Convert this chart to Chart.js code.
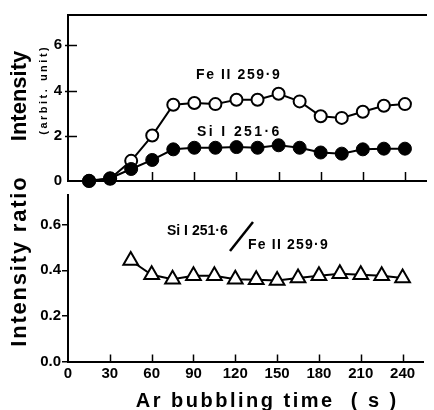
<!DOCTYPE html>
<html>
<head>
<meta charset="utf-8">
<script src="https://cdn.jsdelivr.net/npm/chart.js@4.4.1/dist/chart.umd.min.js"></script>
<style>
  html, body { margin: 0; padding: 0; background: #fff; }
  #wrap { position: relative; width: 434px; height: 410px; overflow: hidden; }
  #top { position: absolute; left: 0; top: 0; }
  #bottom { position: absolute; left: 0; top: 166px; }
</style>
</head>
<body>
<div id="wrap">
  <canvas id="top" width="434" height="196"></canvas>
  <canvas id="bottom" width="434" height="244"></canvas>
</div>
<script>
// --- data ---
const times = [15, 30, 45, 60, 75, 90, 105, 120, 135, 150, 165, 180, 195, 210, 225, 240];
const feII = [0.0, 0.1, 0.89, 2.01, 3.37, 3.45, 3.4, 3.59, 3.59, 3.86, 3.52, 2.86, 2.79, 3.06, 3.33, 3.4];
const siI = [0.01, 0.12, 0.53, 0.93, 1.4, 1.47, 1.47, 1.5, 1.47, 1.58, 1.47, 1.26, 1.21, 1.4, 1.43, 1.43];

const ratioTimes = [45, 60, 75, 90, 105, 120, 135, 150, 165, 180, 195, 210, 225, 240];
const ratio = [0.443, 0.38, 0.361, 0.376, 0.376, 0.361, 0.358, 0.355, 0.366, 0.376, 0.385, 0.38, 0.376, 0.366];

const xTicks = [0, 30, 60, 90, 120, 150, 180, 210, 240];
const intensityTicks = [0, 2, 4, 6];
const ratioTicks = [0, 0.2, 0.4, 0.6];

const FONT = '"Liberation Sans", Arial, sans-serif';
Chart.defaults.font.family = FONT;
Chart.defaults.font.weight = 'bold';
Chart.defaults.color = '#000';

const toPoints = (xs, ys) => xs.map((x, i) => ({ x: x, y: ys[i] }));
const setTicks = (vals) => (scale) => { scale.ticks = vals.map(v => ({ value: v })); };

// draw text with optional letter spacing / rotation
function label(ctx, text, x, y, size, spacing, align, rotate) {
  ctx.save();
  ctx.font = 'bold ' + size + 'px ' + FONT;
  ctx.fillStyle = '#000';
  ctx.letterSpacing = (spacing || 0) + 'px';
  ctx.textBaseline = 'middle';
  ctx.textAlign = 'left';
  const w = ctx.measureText(text).width - (spacing || 0);
  ctx.translate(x, y);
  if (rotate) ctx.rotate(-Math.PI / 2);
  const x0 = align === 'center' ? -w / 2 : 0;
  ctx.fillText(text, x0, 0);
  ctx.restore();
}

// tick marks drawn inside the plot area
const insideTicks = {
  id: 'insideTicks',
  beforeDatasetsDraw(chart, args, opts) {
    const ctx = chart.ctx, area = chart.chartArea;
    ctx.save();
    ctx.strokeStyle = '#000';
    ctx.lineWidth = 1.5;
    ctx.beginPath();
    (opts.x || []).forEach(v => {
      const px = Math.round(chart.scales.x.getPixelForValue(v)) + 0.5;
      ctx.moveTo(px, area.bottom);
      ctx.lineTo(px, area.bottom - opts.xLen);
    });
    (opts.y || []).forEach(v => {
      const py = Math.round(chart.scales.y.getPixelForValue(v)) + 0.5;
      ctx.moveTo(area.left - 3, py);
      ctx.lineTo(area.left + opts.yLen, py);
    });
    ctx.stroke();
    ctx.restore();
  }
};

const topText = {
  id: 'topText',
  afterDraw(chart) {
    const ctx = chart.ctx;
    label(ctx, 'Intensity', 20, 96, 22, 0, 'center', true);
    label(ctx, '(arbit. unit)', 44, 91, 11, 2.5, 'center', true);
    label(ctx, 'Fe II 259·9', 196, 75, 14, 1.6, 'left');
    label(ctx, 'Si I 251·6', 197, 132, 14, 2.4, 'left');
  }
};

const bottomText = {
  id: 'bottomText',
  afterDraw(chart) {
    const ctx = chart.ctx;
    label(ctx, 'Intensity ratio', 20, 96, 22, 1.8, 'center', true);
    label(ctx, 'Si I 251·6', 167, 65.5, 14, 0, 'left');
    label(ctx, 'Fe II 259·9', 248, 79, 14, 1.2, 'left');
    ctx.save();
    ctx.strokeStyle = '#000';
    ctx.lineWidth = 2.5;
    ctx.beginPath();
    ctx.moveTo(230, 85);
    ctx.lineTo(253, 56);
    ctx.stroke();
    ctx.restore();
    ctx.save();
    ctx.font = 'bold 20px ' + FONT;
    ctx.letterSpacing = '2.5px';
    ctx.fillStyle = '#000';
    ctx.textBaseline = 'alphabetic';
    const t = 'Ar bubbling time  ( s )';
    const w = ctx.measureText(t).width - 2.5;
    ctx.fillText(t, 266 - w / 2, 240.5);
    ctx.restore();
  }
};

const border = { display: true, color: '#000', width: 2 };

new Chart(document.getElementById('top'), {
  type: 'line',
  data: {
    datasets: [
      {
        label: 'Si I 251·6',
        data: toPoints(times, siI),
        borderColor: '#000',
        borderWidth: 2,
        pointRadius: 6.5,
        pointBorderWidth: 1,
        pointBackgroundColor: '#000',
        pointBorderColor: '#000',
        clip: false
      },
      {
        label: 'Fe II 259·9',
        data: toPoints(times, feII),
        borderColor: '#000',
        borderWidth: 2,
        pointRadius: 6,
        pointBorderWidth: 2,
        pointBackgroundColor: '#fff',
        pointBorderColor: '#000',
        clip: false
      }
    ]
  },
  options: {
    responsive: false,
    animation: false,
    devicePixelRatio: 1,
    layout: { padding: { top: 14, left: 0, right: 0, bottom: 0 } },
    plugins: {
      legend: { display: false },
      tooltip: { enabled: false },
      insideTicks: { x: xTicks.slice(1), xLen: 9, y: intensityTicks.slice(1), yLen: 9 }
    },
    elements: { line: { tension: 0 } },
    scales: {
      x: {
        type: 'linear', min: 0, max: 255,
        afterBuildTicks: setTicks(xTicks),
        ticks: { display: false },
        grid: { drawOnChartArea: false, drawTicks: false },
        border: border,
        afterFit: (s) => { s.height = 14; }
      },
      xTop: {
        type: 'linear', position: 'top', min: 0, max: 255,
        ticks: { display: false },
        grid: { display: false, drawTicks: false },
        border: border,
        afterFit: (s) => { s.height = 0; }
      },
      y: {
        min: 0, max: 7.34,
        afterBuildTicks: setTicks(intensityTicks),
        ticks: { padding: 6, font: { size: 15, weight: 'bold' } },
        grid: { drawOnChartArea: false, drawTicks: false },
        border: border,
        afterFit: (s) => { s.width = 68; }
      }
    }
  },
  plugins: [insideTicks, topText]
});

new Chart(document.getElementById('bottom'), {
  type: 'line',
  data: {
    datasets: [
      {
        label: 'Si I 251·6 / Fe II 259·9',
        data: toPoints(ratioTimes, ratio),
        borderColor: '#000',
        borderWidth: 2,
        pointStyle: 'triangle',
        pointRadius: 8.5,
        pointBorderWidth: 2,
        pointBackgroundColor: '#fff',
        pointBorderColor: '#000',
        clip: false
      }
    ]
  },
  options: {
    responsive: false,
    animation: false,
    devicePixelRatio: 1,
    layout: { padding: { top: 29, left: 0, right: 0, bottom: 0 } },
    plugins: {
      legend: { display: false },
      tooltip: { enabled: false },
      insideTicks: { x: xTicks.slice(1), xLen: 7, y: [], yLen: 0 }
    },
    elements: { line: { tension: 0 } },
    scales: {
      x: {
        type: 'linear', min: 0, max: 255,
        afterBuildTicks: setTicks(xTicks),
        ticks: { padding: 3, maxRotation: 0, font: { size: 15, weight: 'bold' } },
        grid: { drawOnChartArea: false, drawTicks: false },
        border: border,
        afterFit: (s) => { s.height = 48.5; }
      },
      y: {
        min: 0, max: 0.73,
        afterBuildTicks: setTicks(ratioTicks),
        ticks: { padding: 1, font: { size: 15, weight: 'bold' }, callback: (v) => v.toFixed(1) },
        grid: { drawOnChartArea: false, drawTicks: true, tickLength: 6, color: '#000', lineWidth: 1.5 },
        border: border,
        afterFit: (s) => { s.width = 68; }
      }
    }
  },
  plugins: [insideTicks, bottomText]
});
</script>
</body>
</html>
